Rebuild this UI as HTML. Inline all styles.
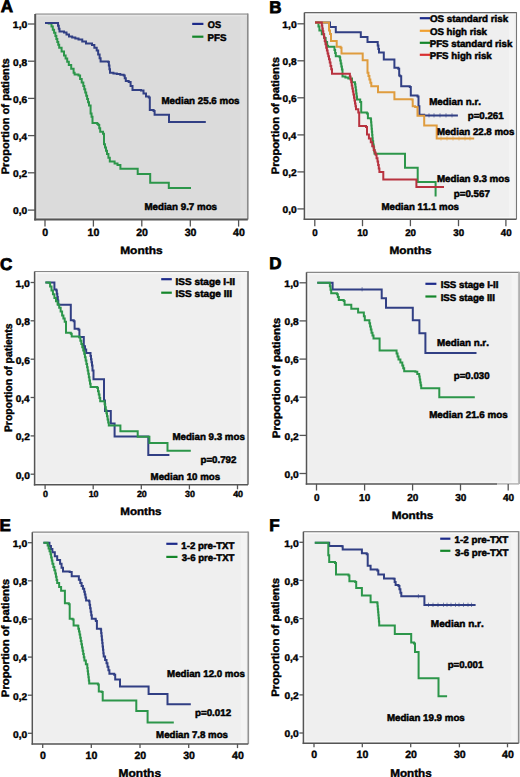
<!DOCTYPE html>
<html><head><meta charset="utf-8"><title>Kaplan-Meier curves</title>
<style>
html,body{margin:0;padding:0;background:#fff;}
svg{display:block;}
text{font-family:"Liberation Sans", sans-serif;font-weight:bold;font-kerning:none;text-rendering:geometricPrecision;white-space:pre;}
</style></head>
<body>
<svg width="520" height="777" viewBox="0 0 520 777">
<rect x="0" y="0" width="520" height="777" fill="#ffffff"/>
<rect x="35.2" y="14.0" width="212.60000000000002" height="205.4" fill="#dbdbdb"/>
<rect x="240.3" y="14.0" width="5.5" height="205.4" fill="#dfdfdf"/>
<line x1="36.800000000000004" y1="14.0" x2="36.800000000000004" y2="219.4" stroke="#e6e6e6" stroke-width="1.2"/>
<line x1="35.2" y1="15.6" x2="247.8" y2="15.6" stroke="#e6e6e6" stroke-width="1.2"/>
<line x1="35.2" y1="217.70000000000002" x2="247.8" y2="217.70000000000002" stroke="#e6e6e6" stroke-width="1.0"/>
<line x1="35.2" y1="14.0" x2="247.8" y2="14.0" stroke="#858585" stroke-width="1.2"/>
<line x1="247.8" y1="13.4" x2="247.8" y2="219.4" stroke="#8c8c8c" stroke-width="1.6"/>
<line x1="35.2" y1="14.0" x2="35.2" y2="220.4" stroke="#555" stroke-width="2.0"/>
<line x1="34.2" y1="219.4" x2="247.8" y2="219.4" stroke="#555" stroke-width="2.0"/>
<line x1="45.0" y1="219.4" x2="45.0" y2="226.6" stroke="#555" stroke-width="1.3"/>
<text x="42.262" y="236.497" font-size="10.593103448275869" textLength="5.891" lengthAdjust="spacingAndGlyphs" fill="#000" stroke="#000" stroke-width="0.4">0</text>
<line x1="93.4" y1="219.4" x2="93.4" y2="226.6" stroke="#555" stroke-width="1.3"/>
<text x="87.592" y="236.497" font-size="10.593103448275869" textLength="11.783" lengthAdjust="spacingAndGlyphs" fill="#000" stroke="#000" stroke-width="0.4">10</text>
<line x1="141.8" y1="219.4" x2="141.8" y2="226.6" stroke="#555" stroke-width="1.3"/>
<text x="136.142" y="236.497" font-size="10.593103448275869" textLength="11.783" lengthAdjust="spacingAndGlyphs" fill="#000" stroke="#000" stroke-width="0.4">20</text>
<line x1="190.3" y1="219.4" x2="190.3" y2="226.6" stroke="#555" stroke-width="1.3"/>
<text x="184.704" y="236.497" font-size="10.593103448275869" textLength="11.783" lengthAdjust="spacingAndGlyphs" fill="#000" stroke="#000" stroke-width="0.4">30</text>
<line x1="238.6" y1="219.4" x2="238.6" y2="226.6" stroke="#555" stroke-width="1.3"/>
<text x="233.046" y="236.497" font-size="10.593103448275869" textLength="11.783" lengthAdjust="spacingAndGlyphs" fill="#000" stroke="#000" stroke-width="0.4">40</text>
<line x1="28.000000000000004" y1="24.0" x2="35.2" y2="24.0" stroke="#555" stroke-width="1.3"/>
<text x="12.844" y="28.300" font-size="9.6" textLength="14.484" lengthAdjust="spacingAndGlyphs" fill="#000" stroke="#000" stroke-width="0.4">1,0</text>
<line x1="28.000000000000004" y1="61.2" x2="35.2" y2="61.2" stroke="#555" stroke-width="1.3"/>
<text x="13.098" y="65.500" font-size="9.6" textLength="14.114" lengthAdjust="spacingAndGlyphs" fill="#000" stroke="#000" stroke-width="0.4">0,8</text>
<line x1="28.000000000000004" y1="98.4" x2="35.2" y2="98.4" stroke="#555" stroke-width="1.3"/>
<text x="13.097" y="102.700" font-size="9.6" textLength="14.172" lengthAdjust="spacingAndGlyphs" fill="#000" stroke="#000" stroke-width="0.4">0,6</text>
<line x1="28.000000000000004" y1="135.6" x2="35.2" y2="135.6" stroke="#555" stroke-width="1.3"/>
<text x="13.106" y="139.900" font-size="9.6" textLength="13.847" lengthAdjust="spacingAndGlyphs" fill="#000" stroke="#000" stroke-width="0.4">0,4</text>
<line x1="28.000000000000004" y1="172.8" x2="35.2" y2="172.8" stroke="#555" stroke-width="1.3"/>
<text x="13.096" y="177.100" font-size="9.6" textLength="14.214" lengthAdjust="spacingAndGlyphs" fill="#000" stroke="#000" stroke-width="0.4">0,2</text>
<line x1="28.000000000000004" y1="210.1" x2="35.2" y2="210.1" stroke="#555" stroke-width="1.3"/>
<text x="13.095" y="214.400" font-size="9.6" textLength="14.224" lengthAdjust="spacingAndGlyphs" fill="#000" stroke="#000" stroke-width="0.4">0,0</text>
<text x="120.202" y="254.400" font-size="10.6" textLength="42.387" lengthAdjust="spacingAndGlyphs" fill="#000" stroke="#000" stroke-width="0.4">Months</text>
<text transform="translate(8.500,173.800) rotate(-90)" x="-0.544" y="0" font-size="10.8" textLength="116.100" lengthAdjust="spacingAndGlyphs" fill="#000" stroke="#000" stroke-width="0.4">Proportion of patients</text>
<text x="0.777" y="11.900" font-size="17.0" textLength="12.277" lengthAdjust="spacingAndGlyphs" fill="#000" stroke="#000" stroke-width="0.8">A</text>
<path d="M45.00,23.00 L48.70,23.00 L48.70,23.60 L51.50,23.60 L51.50,26.50 L52.80,26.50 L52.80,29.67 L54.10,29.67 L54.10,32.83 L55.40,32.83 L55.40,36.00 L56.35,36.00 L56.35,39.00 L57.30,39.00 L57.30,42.00 L58.25,42.00 L58.25,44.85 L59.20,44.85 L59.20,47.70 L61.60,47.70 L61.60,51.55 L64.00,51.55 L64.00,55.40 L65.60,55.40 L65.60,58.60 L67.20,58.60 L67.20,61.80 L68.80,61.80 L68.80,65.00 L71.20,65.00 L71.20,68.85 L73.60,68.85 L73.60,72.70 L74.60,72.70 L74.60,74.60 L78.50,74.60 L78.50,75.60 L80.10,75.60 L80.10,79.07 L81.70,79.07 L81.70,82.53 L83.30,82.53 L83.30,86.00 L84.27,86.00 L84.27,89.27 L85.23,89.27 L85.23,92.53 L86.20,92.53 L86.20,95.80 L87.13,95.80 L87.13,99.00 L88.07,99.00 L88.07,102.20 L89.00,102.20 L89.00,105.40 L90.60,105.40 L90.60,113.50 L91.55,113.50 L91.55,116.85 L92.50,116.85 L92.50,120.20 L92.50,123.00 L97.30,123.00 L97.30,124.00 L98.30,124.00 L98.30,125.00 L99.25,125.00 L99.25,128.35 L100.20,128.35 L100.20,131.70 L103.00,131.70 L103.00,133.70 L104.00,133.70 L104.00,144.20 L105.00,144.20 L105.00,147.47 L106.00,147.47 L106.00,150.73 L107.00,150.73 L107.00,154.00 L108.40,154.00 L108.40,157.75 L109.80,157.75 L109.80,161.50 L114.60,161.50 L114.60,163.50 L117.50,163.50 L117.50,164.90 L120.40,164.90 L120.40,166.30 L120.40,168.80 L137.70,168.80 L137.70,174.00 L149.00,174.00 L150.20,174.00 L150.20,182.70 L168.30,182.70 L168.80,182.70 L168.80,188.00 L191.00,188.00" fill="none" stroke="#2c964a" stroke-width="2.0" stroke-linejoin="miter" stroke-linecap="butt"/>
<path d="M45.00,23.00 L57.30,23.00 L58.03,23.00 L58.03,25.83 L58.77,25.83 L58.77,28.67 L59.50,28.67 L59.50,31.50 L64.00,31.50 L64.00,32.50 L66.50,32.50 L66.50,34.50 L69.00,34.50 L69.00,36.50 L72.17,36.50 L72.17,37.53 L75.33,37.53 L75.33,38.57 L78.50,38.57 L78.50,39.60 L82.25,39.60 L82.25,41.55 L86.00,41.55 L86.00,43.50 L92.00,43.50 L92.00,45.00 L94.35,45.00 L94.35,47.80 L96.70,47.80 L96.70,50.60 L98.15,50.60 L98.15,54.45 L99.60,54.45 L99.60,58.30 L100.60,58.30 L100.60,61.50 L108.30,61.50 L108.30,62.00 L108.87,62.00 L108.87,65.57 L109.43,65.57 L109.43,69.13 L110.00,69.13 L110.00,72.70 L113.42,72.70 L113.42,73.40 L116.85,73.40 L116.85,74.10 L120.28,74.10 L120.28,74.80 L123.70,74.80 L123.70,75.50 L124.75,75.50 L124.75,78.25 L125.80,78.25 L125.80,81.00 L128.70,81.00 L128.70,82.00 L130.60,82.00 L130.60,86.00 L132.50,86.00 L132.50,90.00 L141.00,90.00 L141.00,90.50 L143.50,90.50 L143.50,93.50 L146.00,93.50 L146.00,96.50 L148.80,96.50 L148.80,97.50 L149.80,97.50 L149.80,110.00 L153.60,110.00 L153.60,111.00 L154.60,111.00 L154.60,114.80 L169.00,114.80 L169.00,122.00 L205.80,122.00" fill="none" stroke="#313f84" stroke-width="2.0" stroke-linejoin="miter" stroke-linecap="butt"/>
<line x1="192.2" y1="23.9" x2="203.4" y2="23.9" stroke="#1c2a8a" stroke-width="2.2"/>
<text x="207.874" y="27.950" font-size="9.7" textLength="13.233" lengthAdjust="spacingAndGlyphs" fill="#000" stroke="#000" stroke-width="0.5">OS</text>
<line x1="192.2" y1="36.7" x2="203.4" y2="36.7" stroke="#14862a" stroke-width="2.2"/>
<text x="207.599" y="40.950" font-size="9.7" textLength="18.931" lengthAdjust="spacingAndGlyphs" fill="#000" stroke="#000" stroke-width="0.5">PFS</text>
<text x="161.498" y="104.350" font-size="9.7" textLength="78.052" lengthAdjust="spacingAndGlyphs" fill="#000" stroke="#000" stroke-width="0.5">Median 25.6 mos</text>
<text x="144.397" y="209.950" font-size="9.7" textLength="72.653" lengthAdjust="spacingAndGlyphs" fill="#000" stroke="#000" stroke-width="0.5">Median 9.7 mos</text>
<rect x="304.4" y="12.6" width="212.10000000000002" height="206.6" fill="#efefef"/>
<rect x="509.0" y="12.6" width="5.5" height="206.6" fill="#f4f4f4"/>
<line x1="306.0" y1="12.6" x2="306.0" y2="219.2" stroke="#f8f8f8" stroke-width="1.2"/>
<line x1="304.4" y1="14.2" x2="516.5" y2="14.2" stroke="#f8f8f8" stroke-width="1.2"/>
<line x1="304.4" y1="217.5" x2="516.5" y2="217.5" stroke="#f8f8f8" stroke-width="1.0"/>
<line x1="304.4" y1="12.6" x2="516.5" y2="12.6" stroke="#666" stroke-width="1.1"/>
<line x1="516.5" y1="12.049999999999999" x2="516.5" y2="219.2" stroke="#777" stroke-width="1.1"/>
<line x1="304.4" y1="12.6" x2="304.4" y2="219.95" stroke="#555" stroke-width="1.5"/>
<line x1="303.65" y1="219.2" x2="516.5" y2="219.2" stroke="#555" stroke-width="1.5"/>
<line x1="314.8" y1="219.2" x2="314.8" y2="226.2" stroke="#555" stroke-width="1.3"/>
<text x="312.297" y="235.505" font-size="9.745655172413809" textLength="5.420" lengthAdjust="spacingAndGlyphs" fill="#000" stroke="#000" stroke-width="0.4">0</text>
<line x1="362.5" y1="219.2" x2="362.5" y2="226.2" stroke="#555" stroke-width="1.3"/>
<text x="357.173" y="235.505" font-size="9.745655172413809" textLength="10.840" lengthAdjust="spacingAndGlyphs" fill="#000" stroke="#000" stroke-width="0.4">10</text>
<line x1="410.4" y1="219.2" x2="410.4" y2="226.2" stroke="#555" stroke-width="1.3"/>
<text x="405.211" y="235.505" font-size="9.745655172413809" textLength="10.840" lengthAdjust="spacingAndGlyphs" fill="#000" stroke="#000" stroke-width="0.4">20</text>
<line x1="458.5" y1="219.2" x2="458.5" y2="226.2" stroke="#555" stroke-width="1.3"/>
<text x="453.368" y="235.505" font-size="9.745655172413809" textLength="10.840" lengthAdjust="spacingAndGlyphs" fill="#000" stroke="#000" stroke-width="0.4">30</text>
<line x1="505.9" y1="219.2" x2="505.9" y2="226.2" stroke="#555" stroke-width="1.3"/>
<text x="500.806" y="235.505" font-size="9.745655172413809" textLength="10.840" lengthAdjust="spacingAndGlyphs" fill="#000" stroke="#000" stroke-width="0.4">40</text>
<line x1="297.4" y1="23.8" x2="304.4" y2="23.8" stroke="#555" stroke-width="1.3"/>
<text x="282.244" y="28.100" font-size="9.6" textLength="14.484" lengthAdjust="spacingAndGlyphs" fill="#000" stroke="#000" stroke-width="0.4">1,0</text>
<line x1="297.4" y1="60.8" x2="304.4" y2="60.8" stroke="#555" stroke-width="1.3"/>
<text x="282.498" y="65.100" font-size="9.6" textLength="14.114" lengthAdjust="spacingAndGlyphs" fill="#000" stroke="#000" stroke-width="0.4">0,8</text>
<line x1="297.4" y1="97.8" x2="304.4" y2="97.8" stroke="#555" stroke-width="1.3"/>
<text x="282.497" y="102.100" font-size="9.6" textLength="14.172" lengthAdjust="spacingAndGlyphs" fill="#000" stroke="#000" stroke-width="0.4">0,6</text>
<line x1="297.4" y1="134.9" x2="304.4" y2="134.9" stroke="#555" stroke-width="1.3"/>
<text x="282.506" y="139.200" font-size="9.6" textLength="13.847" lengthAdjust="spacingAndGlyphs" fill="#000" stroke="#000" stroke-width="0.4">0,4</text>
<line x1="297.4" y1="171.9" x2="304.4" y2="171.9" stroke="#555" stroke-width="1.3"/>
<text x="282.496" y="176.200" font-size="9.6" textLength="14.214" lengthAdjust="spacingAndGlyphs" fill="#000" stroke="#000" stroke-width="0.4">0,2</text>
<line x1="297.4" y1="208.9" x2="304.4" y2="208.9" stroke="#555" stroke-width="1.3"/>
<text x="282.495" y="213.200" font-size="9.6" textLength="14.224" lengthAdjust="spacingAndGlyphs" fill="#000" stroke="#000" stroke-width="0.4">0,0</text>
<text x="389.408" y="253.700" font-size="10.6" textLength="42.077" lengthAdjust="spacingAndGlyphs" fill="#000" stroke="#000" stroke-width="0.4">Months</text>
<text transform="translate(278.600,173.800) rotate(-90)" x="-0.551" y="0" font-size="10.8" textLength="117.312" lengthAdjust="spacingAndGlyphs" fill="#000" stroke="#000" stroke-width="0.4">Proportion of patients</text>
<text x="269.363" y="12.600" font-size="17.0" textLength="12.277" lengthAdjust="spacingAndGlyphs" fill="#000" stroke="#000" stroke-width="0.8">B</text>
<path d="M315.00,22.60 L330.00,22.60 L330.00,26.90 L335.80,26.90 L335.80,32.30 L360.80,32.30 L360.80,37.10 L367.50,37.10 L367.50,41.90 L377.10,41.90 L377.73,41.90 L377.73,45.43 L378.37,45.43 L378.37,48.97 L379.00,48.97 L379.00,52.50 L383.80,52.50 L383.80,53.50 L383.80,59.60 L393.50,59.60 L394.40,59.60 L394.40,67.70 L398.30,67.70 L398.30,68.70 L399.20,68.70 L399.20,75.40 L400.20,75.40 L400.20,76.30 L401.20,76.30 L401.20,86.30 L409.80,86.30 L409.80,87.00 L410.80,87.00 L410.80,95.60 L417.50,95.60 L417.50,96.50 L418.50,96.50 L418.50,106.20 L419.40,106.20 L419.40,114.80 L424.20,114.80 L424.20,115.50 L457.90,115.50" fill="none" stroke="#313f84" stroke-width="2.0" stroke-linejoin="miter" stroke-linecap="butt"/>
<path d="M315.00,22.60 L317.50,22.60 L318.45,22.60 L318.45,26.50 L319.40,26.50 L319.40,30.40 L321.80,30.40 L321.80,34.20 L324.20,34.20 L324.20,38.00 L325.65,38.00 L325.65,41.90 L327.10,41.90 L327.10,45.80 L328.00,45.80 L328.00,46.70 L333.80,46.70 L334.47,46.70 L334.47,49.90 L335.13,49.90 L335.13,53.10 L335.80,53.10 L335.80,56.30 L339.60,56.30 L339.60,57.30 L340.18,57.30 L340.18,60.38 L340.76,60.38 L340.76,63.46 L341.34,63.46 L341.34,66.54 L341.92,66.54 L341.92,69.62 L342.50,69.62 L342.50,72.70 L342.50,76.50 L345.40,76.50 L345.40,77.50 L348.30,77.50 L348.30,78.50 L352.00,78.50 L352.00,82.30 L355.00,82.30 L355.00,84.20 L355.40,84.20 L355.40,87.28 L355.80,87.28 L355.80,90.36 L356.20,90.36 L356.20,93.44 L356.60,93.44 L356.60,96.52 L357.00,96.52 L357.00,99.60 L360.20,99.60 L360.20,102.00 L361.20,102.00 L361.20,112.50 L366.90,112.50 L366.90,113.50 L367.90,113.50 L367.90,118.30 L370.80,118.30 L370.80,119.20 L371.07,119.20 L371.07,122.36 L371.34,122.36 L371.34,125.51 L371.61,125.51 L371.61,128.67 L371.89,128.67 L371.89,131.83 L372.16,131.83 L372.16,134.99 L372.43,134.99 L372.43,138.14 L372.70,138.14 L372.70,141.30 L373.18,141.30 L373.18,144.43 L373.65,144.43 L373.65,147.55 L374.12,147.55 L374.12,150.68 L374.60,150.68 L374.60,153.80 L405.00,153.80 L405.00,167.70 L417.70,167.70 L417.70,182.00 L435.60,182.00 L435.60,196.50" fill="none" stroke="#2c964a" stroke-width="2.0" stroke-linejoin="miter" stroke-linecap="butt"/>
<path d="M315.00,22.60 L328.00,22.60 L329.00,22.60 L329.00,30.40 L330.00,30.40 L330.00,34.00 L331.00,34.00 L331.00,41.00 L336.70,41.00 L336.70,46.70 L340.60,46.70 L340.60,47.70 L341.50,47.70 L341.50,48.70 L341.50,53.50 L361.70,53.50 L362.70,53.50 L362.70,60.20 L366.50,60.20 L367.50,60.20 L367.50,72.70 L368.45,72.70 L368.45,76.08 L369.40,76.08 L369.40,79.45 L370.35,79.45 L370.35,82.83 L371.30,82.83 L371.30,86.20 L377.10,86.20 L378.00,86.20 L378.00,92.30 L394.40,92.30 L394.40,99.20 L411.70,99.20 L411.70,99.40 L412.70,99.40 L412.70,106.20 L415.10,106.20 L415.10,107.10 L417.50,107.10 L417.50,108.00 L417.50,115.80 L423.30,115.80 L424.20,115.80 L424.20,125.40 L436.70,125.40 L436.70,126.30 L436.70,138.60 L474.20,138.60" fill="none" stroke="#df9c3e" stroke-width="2.0" stroke-linejoin="miter" stroke-linecap="butt"/>
<path d="M315.00,22.60 L321.30,22.60 L321.80,22.60 L321.80,25.50 L322.30,25.50 L322.30,28.40 L322.80,28.40 L322.80,31.30 L323.30,31.30 L323.30,34.20 L324.02,34.20 L324.02,37.58 L324.75,37.58 L324.75,40.95 L325.48,40.95 L325.48,44.33 L326.20,44.33 L326.20,47.70 L326.90,47.70 L326.90,50.58 L327.60,50.58 L327.60,53.45 L328.30,53.45 L328.30,56.33 L329.00,56.33 L329.00,59.20 L329.75,59.20 L329.75,62.58 L330.50,62.58 L330.50,65.95 L331.25,65.95 L331.25,69.33 L332.00,69.33 L332.00,72.70 L332.00,73.70 L349.20,73.70 L349.87,73.70 L349.87,76.57 L350.53,76.57 L350.53,79.43 L351.20,79.43 L351.20,82.30 L351.76,82.30 L351.76,85.38 L352.32,85.38 L352.32,88.46 L352.88,88.46 L352.88,91.54 L353.44,91.54 L353.44,94.62 L354.00,94.62 L354.00,97.70 L354.50,97.70 L354.50,100.58 L355.00,100.58 L355.00,103.45 L355.50,103.45 L355.50,106.33 L356.00,106.33 L356.00,109.20 L358.30,109.20 L358.30,112.50 L359.20,112.50 L359.20,126.00 L366.00,126.00 L366.00,127.00 L367.00,127.00 L367.00,134.60 L368.90,134.60 L368.90,138.45 L370.80,138.45 L370.80,142.30 L372.25,142.30 L372.25,146.15 L373.70,146.15 L373.70,150.00 L374.65,150.00 L374.65,152.40 L375.60,152.40 L375.60,154.80 L376.55,154.80 L376.55,158.15 L377.50,158.15 L377.50,161.50 L378.13,161.50 L378.13,165.03 L378.77,165.03 L378.77,168.57 L379.40,168.57 L379.40,172.10 L383.30,172.10 L383.30,173.00 L383.30,179.60 L416.40,179.60 L416.40,187.00 L444.00,187.00" fill="none" stroke="#b8323f" stroke-width="2.0" stroke-linejoin="miter" stroke-linecap="butt"/>
<line x1="429" y1="113.2" x2="429" y2="117.5" stroke="#313f84" stroke-width="1.0" opacity="0.55"/>
<line x1="434" y1="113.2" x2="434" y2="117.5" stroke="#313f84" stroke-width="1.0" opacity="0.55"/>
<line x1="440" y1="113.2" x2="440" y2="117.5" stroke="#313f84" stroke-width="1.0" opacity="0.55"/>
<line x1="446" y1="113.2" x2="446" y2="117.5" stroke="#313f84" stroke-width="1.0" opacity="0.55"/>
<line x1="452" y1="113.2" x2="452" y2="117.5" stroke="#313f84" stroke-width="1.0" opacity="0.55"/>
<line x1="441" y1="136.29999999999998" x2="441" y2="140.6" stroke="#df9c3e" stroke-width="1.0" opacity="0.55"/>
<line x1="447" y1="136.29999999999998" x2="447" y2="140.6" stroke="#df9c3e" stroke-width="1.0" opacity="0.55"/>
<line x1="453" y1="136.29999999999998" x2="453" y2="140.6" stroke="#df9c3e" stroke-width="1.0" opacity="0.55"/>
<line x1="459" y1="136.29999999999998" x2="459" y2="140.6" stroke="#df9c3e" stroke-width="1.0" opacity="0.55"/>
<line x1="465" y1="136.29999999999998" x2="465" y2="140.6" stroke="#df9c3e" stroke-width="1.0" opacity="0.55"/>
<line x1="470" y1="136.29999999999998" x2="470" y2="140.6" stroke="#df9c3e" stroke-width="1.0" opacity="0.55"/>
<line x1="419.8" y1="18.2" x2="430.20000000000005" y2="18.2" stroke="#1c2a8a" stroke-width="2.2"/>
<text x="429.949" y="21.850" font-size="9.7" textLength="78.191" lengthAdjust="spacingAndGlyphs" fill="#000" stroke="#000" stroke-width="0.5">OS standard risk</text>
<line x1="419.8" y1="30.8" x2="430.20000000000005" y2="30.8" stroke="#f0a030" stroke-width="2.2"/>
<text x="429.953" y="34.550" font-size="9.7" textLength="56.987" lengthAdjust="spacingAndGlyphs" fill="#000" stroke="#000" stroke-width="0.5">OS high risk</text>
<line x1="419.8" y1="42.8" x2="430.20000000000005" y2="42.8" stroke="#14862a" stroke-width="2.2"/>
<text x="429.700" y="46.750" font-size="9.7" textLength="82.641" lengthAdjust="spacingAndGlyphs" fill="#000" stroke="#000" stroke-width="0.5">PFS standard risk</text>
<line x1="419.8" y1="54.8" x2="430.20000000000005" y2="54.8" stroke="#d83030" stroke-width="2.2"/>
<text x="429.701" y="59.450" font-size="9.7" textLength="62.040" lengthAdjust="spacingAndGlyphs" fill="#000" stroke="#000" stroke-width="0.5">PFS high risk</text>
<text x="429.193" y="104.750" font-size="9.7" textLength="51.833" lengthAdjust="spacingAndGlyphs" fill="#000" stroke="#000" stroke-width="0.5">Median n.r.</text>
<text x="467.708" y="118.950" font-size="9.7" textLength="36.013" lengthAdjust="spacingAndGlyphs" fill="#000" stroke="#000" stroke-width="0.5">p=0.261</text>
<text x="436.903" y="135.350" font-size="9.7" textLength="77.444" lengthAdjust="spacingAndGlyphs" fill="#000" stroke="#000" stroke-width="0.5">Median 22.8 mos</text>
<text x="436.896" y="182.050" font-size="9.7" textLength="72.856" lengthAdjust="spacingAndGlyphs" fill="#000" stroke="#000" stroke-width="0.5">Median 9.3 mos</text>
<text x="453.807" y="196.750" font-size="9.7" textLength="36.072" lengthAdjust="spacingAndGlyphs" fill="#000" stroke="#000" stroke-width="0.5">p=0.567</text>
<text x="381.503" y="209.950" font-size="9.7" textLength="77.444" lengthAdjust="spacingAndGlyphs" fill="#000" stroke="#000" stroke-width="0.5">Median 11.1 mos</text>
<rect x="34.6" y="271.5" width="213.4" height="213.3" fill="#efefef"/>
<rect x="240.5" y="271.5" width="5.5" height="213.3" fill="#f4f4f4"/>
<line x1="36.2" y1="271.5" x2="36.2" y2="484.8" stroke="#f8f8f8" stroke-width="1.2"/>
<line x1="34.6" y1="273.1" x2="248.0" y2="273.1" stroke="#f8f8f8" stroke-width="1.2"/>
<line x1="34.6" y1="483.1" x2="248.0" y2="483.1" stroke="#f8f8f8" stroke-width="1.0"/>
<line x1="34.6" y1="271.5" x2="248.0" y2="271.5" stroke="#888" stroke-width="1.2"/>
<line x1="248.0" y1="270.9" x2="248.0" y2="484.8" stroke="#808080" stroke-width="1.8"/>
<line x1="34.6" y1="271.5" x2="34.6" y2="485.55" stroke="#555" stroke-width="1.5"/>
<line x1="33.85" y1="484.8" x2="248.0" y2="484.8" stroke="#555" stroke-width="1.5"/>
<line x1="45.1" y1="484.8" x2="45.1" y2="489.3" stroke="#555" stroke-width="1.3"/>
<text x="43.132" y="497.413" font-size="8.898206896551708" textLength="4.949" lengthAdjust="spacingAndGlyphs" fill="#000" stroke="#000" stroke-width="0.4">0</text>
<line x1="93.2" y1="484.8" x2="93.2" y2="489.3" stroke="#555" stroke-width="1.3"/>
<text x="88.653" y="497.413" font-size="8.898206896551708" textLength="9.898" lengthAdjust="spacingAndGlyphs" fill="#000" stroke="#000" stroke-width="0.4">10</text>
<line x1="141.3" y1="484.8" x2="141.3" y2="489.3" stroke="#555" stroke-width="1.3"/>
<text x="136.879" y="497.413" font-size="8.898206896551708" textLength="9.898" lengthAdjust="spacingAndGlyphs" fill="#000" stroke="#000" stroke-width="0.4">20</text>
<line x1="189.4" y1="484.8" x2="189.4" y2="489.3" stroke="#555" stroke-width="1.3"/>
<text x="185.032" y="497.413" font-size="8.898206896551708" textLength="9.898" lengthAdjust="spacingAndGlyphs" fill="#000" stroke="#000" stroke-width="0.4">30</text>
<line x1="237.5" y1="484.8" x2="237.5" y2="489.3" stroke="#555" stroke-width="1.3"/>
<text x="233.166" y="497.413" font-size="8.898206896551708" textLength="9.898" lengthAdjust="spacingAndGlyphs" fill="#000" stroke="#000" stroke-width="0.4">40</text>
<line x1="30.6" y1="282.5" x2="34.6" y2="282.5" stroke="#555" stroke-width="1.3"/>
<text x="15.444" y="286.800" font-size="9.6" textLength="14.484" lengthAdjust="spacingAndGlyphs" fill="#000" stroke="#000" stroke-width="0.4">1,0</text>
<line x1="30.6" y1="320.8" x2="34.6" y2="320.8" stroke="#555" stroke-width="1.3"/>
<text x="15.698" y="325.100" font-size="9.6" textLength="14.114" lengthAdjust="spacingAndGlyphs" fill="#000" stroke="#000" stroke-width="0.4">0,8</text>
<line x1="30.6" y1="359.2" x2="34.6" y2="359.2" stroke="#555" stroke-width="1.3"/>
<text x="15.697" y="363.500" font-size="9.6" textLength="14.172" lengthAdjust="spacingAndGlyphs" fill="#000" stroke="#000" stroke-width="0.4">0,6</text>
<line x1="30.6" y1="397.5" x2="34.6" y2="397.5" stroke="#555" stroke-width="1.3"/>
<text x="15.706" y="401.800" font-size="9.6" textLength="13.847" lengthAdjust="spacingAndGlyphs" fill="#000" stroke="#000" stroke-width="0.4">0,4</text>
<line x1="30.6" y1="435.9" x2="34.6" y2="435.9" stroke="#555" stroke-width="1.3"/>
<text x="15.696" y="440.200" font-size="9.6" textLength="14.214" lengthAdjust="spacingAndGlyphs" fill="#000" stroke="#000" stroke-width="0.4">0,2</text>
<line x1="30.6" y1="474.2" x2="34.6" y2="474.2" stroke="#555" stroke-width="1.3"/>
<text x="15.695" y="478.500" font-size="9.6" textLength="14.224" lengthAdjust="spacingAndGlyphs" fill="#000" stroke="#000" stroke-width="0.4">0,0</text>
<text x="120.224" y="514.800" font-size="10.6" textLength="41.252" lengthAdjust="spacingAndGlyphs" fill="#000" stroke="#000" stroke-width="0.4">Months</text>
<text transform="translate(11.500,431.600) rotate(-90)" x="-0.495" y="0" font-size="10.8" textLength="108.521" lengthAdjust="spacingAndGlyphs" fill="#000" stroke="#000" stroke-width="0.4">Proportion of patients</text>
<text x="-0.097" y="269.800" font-size="17.0" textLength="12.277" lengthAdjust="spacingAndGlyphs" fill="#000" stroke="#000" stroke-width="0.8">C</text>
<path d="M45.40,282.50 L53.80,282.50 L54.40,282.50 L54.40,289.40 L56.30,289.40 L56.30,290.40 L56.80,290.40 L56.80,293.75 L57.30,293.75 L57.30,297.10 L57.80,297.10 L57.80,300.45 L58.30,300.45 L58.30,303.80 L58.30,304.80 L69.80,304.80 L70.80,304.80 L70.80,320.20 L73.70,320.20 L73.70,321.20 L74.60,321.20 L74.60,328.80 L78.50,328.80 L78.50,329.80 L79.40,329.80 L79.40,336.90 L82.70,336.90 L83.80,336.90 L83.80,346.20 L85.00,346.20 L85.00,349.55 L86.20,349.55 L86.20,352.90 L90.00,352.90 L90.50,352.90 L90.50,356.02 L91.00,356.02 L91.00,359.15 L91.50,359.15 L91.50,362.27 L92.00,362.27 L92.00,365.40 L92.50,365.40 L92.50,370.60 L93.50,370.60 L93.50,379.20 L103.00,379.20 L104.00,379.20 L104.00,400.40 L105.00,400.40 L105.00,411.00 L109.80,411.00 L110.80,411.00 L110.80,423.50 L114.60,423.50 L114.60,424.40 L114.60,436.50 L148.30,436.50 L148.30,455.00 L169.40,455.00" fill="none" stroke="#313f84" stroke-width="2.0" stroke-linejoin="miter" stroke-linecap="butt"/>
<path d="M45.40,282.50 L48.70,282.50 L48.70,282.70 L50.10,282.70 L50.10,286.55 L51.50,286.55 L51.50,290.40 L52.95,290.40 L52.95,294.20 L54.40,294.20 L54.40,298.00 L56.00,298.00 L56.00,301.23 L57.60,301.23 L57.60,304.47 L59.20,304.47 L59.20,307.70 L60.65,307.70 L60.65,311.55 L62.10,311.55 L62.10,315.40 L63.40,315.40 L63.40,318.60 L64.70,318.60 L64.70,321.80 L66.00,321.80 L66.00,325.00 L66.00,332.70 L70.80,332.70 L70.80,333.70 L71.70,333.70 L71.70,336.50 L79.40,336.50 L79.40,337.50 L80.36,337.50 L80.36,340.76 L81.32,340.76 L81.32,344.02 L82.28,344.02 L82.28,347.28 L83.24,347.28 L83.24,350.54 L84.20,350.54 L84.20,353.80 L84.92,353.80 L84.92,357.18 L85.65,357.18 L85.65,360.55 L86.38,360.55 L86.38,363.93 L87.10,363.93 L87.10,367.30 L87.68,367.30 L87.68,370.58 L88.27,370.58 L88.27,373.87 L88.85,373.87 L88.85,377.15 L89.43,377.15 L89.43,380.43 L90.02,380.43 L90.02,383.72 L90.60,383.72 L90.60,387.00 L97.30,387.00 L97.30,387.90 L98.03,387.90 L98.03,391.25 L98.75,391.25 L98.75,394.60 L99.47,394.60 L99.47,397.95 L100.20,397.95 L100.20,401.30 L104.00,401.30 L104.60,401.30 L104.60,404.31 L105.20,404.31 L105.20,407.32 L105.80,407.32 L105.80,410.34 L106.40,410.34 L106.40,413.35 L107.00,413.35 L107.00,416.36 L107.60,416.36 L107.60,419.38 L108.20,419.38 L108.20,422.39 L108.80,422.39 L108.80,425.40 L120.40,425.40 L120.40,426.30 L120.40,431.30 L137.70,431.30 L137.70,436.70 L148.80,436.70 L149.40,436.70 L149.40,443.00 L167.50,443.00 L167.50,450.80 L190.80,450.80" fill="none" stroke="#2c964a" stroke-width="2.0" stroke-linejoin="miter" stroke-linecap="butt"/>
<line x1="161.2" y1="279.2" x2="171.79999999999998" y2="279.2" stroke="#1c2a8a" stroke-width="2.2"/>
<text x="175.581" y="284.750" font-size="9.7" textLength="59.437" lengthAdjust="spacingAndGlyphs" fill="#000" stroke="#000" stroke-width="0.5">ISS stage I-II</text>
<line x1="161.2" y1="292.7" x2="171.79999999999998" y2="292.7" stroke="#14862a" stroke-width="2.2"/>
<text x="175.576" y="296.650" font-size="9.7" textLength="56.548" lengthAdjust="spacingAndGlyphs" fill="#000" stroke="#000" stroke-width="0.5">ISS stage III</text>
<text x="172.399" y="440.450" font-size="9.7" textLength="72.450" lengthAdjust="spacingAndGlyphs" fill="#000" stroke="#000" stroke-width="0.5">Median 9.3 mos</text>
<text x="200.509" y="463.050" font-size="9.7" textLength="35.930" lengthAdjust="spacingAndGlyphs" fill="#000" stroke="#000" stroke-width="0.5">p=0.792</text>
<text x="150.601" y="479.550" font-size="9.7" textLength="69.547" lengthAdjust="spacingAndGlyphs" fill="#000" stroke="#000" stroke-width="0.5">Median 10 mos</text>
<rect x="306.5" y="272.3" width="212.60000000000002" height="211.59999999999997" fill="#efefef"/>
<rect x="511.6" y="272.3" width="5.5" height="211.59999999999997" fill="#f4f4f4"/>
<line x1="308.1" y1="272.3" x2="308.1" y2="483.9" stroke="#f8f8f8" stroke-width="1.2"/>
<line x1="306.5" y1="273.90000000000003" x2="519.1" y2="273.90000000000003" stroke="#f8f8f8" stroke-width="1.2"/>
<line x1="306.5" y1="482.2" x2="519.1" y2="482.2" stroke="#f8f8f8" stroke-width="1.0"/>
<line x1="306.5" y1="272.3" x2="519.1" y2="272.3" stroke="#888" stroke-width="1.2"/>
<line x1="519.1" y1="271.7" x2="519.1" y2="483.9" stroke="#b0b0b0" stroke-width="1.8"/>
<line x1="306.5" y1="272.3" x2="306.5" y2="484.65" stroke="#555" stroke-width="1.5"/>
<line x1="305.75" y1="483.9" x2="497" y2="483.9" stroke="#555" stroke-width="1.5"/>
<line x1="497" y1="483.9" x2="519.1" y2="483.9" stroke="#b4b4b4" stroke-width="1.5"/>
<line x1="316.5" y1="483.9" x2="316.5" y2="490.5" stroke="#555" stroke-width="1.3"/>
<text x="313.919" y="500.502" font-size="10.028137931034482" textLength="5.577" lengthAdjust="spacingAndGlyphs" fill="#000" stroke="#000" stroke-width="0.4">0</text>
<line x1="364.6" y1="483.9" x2="364.6" y2="490.5" stroke="#555" stroke-width="1.3"/>
<text x="359.113" y="500.502" font-size="10.028137931034482" textLength="11.154" lengthAdjust="spacingAndGlyphs" fill="#000" stroke="#000" stroke-width="0.4">10</text>
<line x1="412.6" y1="483.9" x2="412.6" y2="490.5" stroke="#555" stroke-width="1.3"/>
<text x="407.255" y="500.502" font-size="10.028137931034482" textLength="11.154" lengthAdjust="spacingAndGlyphs" fill="#000" stroke="#000" stroke-width="0.4">20</text>
<line x1="460.5" y1="483.9" x2="460.5" y2="490.5" stroke="#555" stroke-width="1.3"/>
<text x="455.213" y="500.502" font-size="10.028137931034482" textLength="11.154" lengthAdjust="spacingAndGlyphs" fill="#000" stroke="#000" stroke-width="0.4">30</text>
<line x1="508.2" y1="483.9" x2="508.2" y2="490.5" stroke="#555" stroke-width="1.3"/>
<text x="502.953" y="500.502" font-size="10.028137931034482" textLength="11.154" lengthAdjust="spacingAndGlyphs" fill="#000" stroke="#000" stroke-width="0.4">40</text>
<line x1="299.5" y1="282.8" x2="306.5" y2="282.8" stroke="#555" stroke-width="1.3"/>
<text x="284.344" y="287.100" font-size="9.6" textLength="14.484" lengthAdjust="spacingAndGlyphs" fill="#000" stroke="#000" stroke-width="0.4">1,0</text>
<line x1="299.5" y1="320.9" x2="306.5" y2="320.9" stroke="#555" stroke-width="1.3"/>
<text x="284.598" y="325.200" font-size="9.6" textLength="14.114" lengthAdjust="spacingAndGlyphs" fill="#000" stroke="#000" stroke-width="0.4">0,8</text>
<line x1="299.5" y1="359.1" x2="306.5" y2="359.1" stroke="#555" stroke-width="1.3"/>
<text x="284.597" y="363.400" font-size="9.6" textLength="14.172" lengthAdjust="spacingAndGlyphs" fill="#000" stroke="#000" stroke-width="0.4">0,6</text>
<line x1="299.5" y1="397.2" x2="306.5" y2="397.2" stroke="#555" stroke-width="1.3"/>
<text x="284.606" y="401.500" font-size="9.6" textLength="13.847" lengthAdjust="spacingAndGlyphs" fill="#000" stroke="#000" stroke-width="0.4">0,4</text>
<line x1="299.5" y1="435.4" x2="306.5" y2="435.4" stroke="#555" stroke-width="1.3"/>
<text x="284.596" y="439.700" font-size="9.6" textLength="14.214" lengthAdjust="spacingAndGlyphs" fill="#000" stroke="#000" stroke-width="0.4">0,2</text>
<line x1="299.5" y1="473.5" x2="306.5" y2="473.5" stroke="#555" stroke-width="1.3"/>
<text x="284.595" y="477.800" font-size="9.6" textLength="14.224" lengthAdjust="spacingAndGlyphs" fill="#000" stroke="#000" stroke-width="0.4">0,0</text>
<text x="391.716" y="519.000" font-size="10.6" textLength="41.665" lengthAdjust="spacingAndGlyphs" fill="#000" stroke="#000" stroke-width="0.4">Months</text>
<text transform="translate(280.000,437.700) rotate(-90)" x="-0.571" y="0" font-size="10.8" textLength="120.444" lengthAdjust="spacingAndGlyphs" fill="#000" stroke="#000" stroke-width="0.4">Proportion of patients</text>
<text x="269.363" y="269.200" font-size="17.0" textLength="12.277" lengthAdjust="spacingAndGlyphs" fill="#000" stroke="#000" stroke-width="0.8">D</text>
<path d="M317.30,282.80 L332.10,282.80 L332.60,282.80 L332.60,289.40 L381.20,289.40 L381.70,289.40 L381.70,298.30 L386.00,298.30 L386.00,307.70 L412.50,307.70 L412.80,307.70 L412.80,320.20 L419.20,320.20 L419.40,320.20 L419.40,333.30 L425.20,333.30 L425.40,333.30 L425.40,353.10 L476.50,353.10" fill="none" stroke="#313f84" stroke-width="2.0" stroke-linejoin="miter" stroke-linecap="butt"/>
<path d="M317.30,282.80 L329.20,282.80 L329.87,282.80 L329.87,286.30 L330.53,286.30 L330.53,289.80 L331.20,289.80 L331.20,293.30 L336.90,293.30 L336.90,294.20 L337.85,294.20 L337.85,297.10 L338.80,297.10 L338.80,300.00 L343.70,300.00 L343.70,301.00 L344.60,301.00 L344.60,304.80 L350.40,304.80 L351.30,304.80 L351.30,308.70 L357.10,308.70 L358.10,308.70 L358.10,312.50 L362.90,312.50 L363.85,312.50 L363.85,316.35 L364.80,316.35 L364.80,320.20 L368.70,320.20 L369.40,320.20 L369.40,323.32 L370.10,323.32 L370.10,326.45 L370.80,326.45 L370.80,329.57 L371.50,329.57 L371.50,332.70 L372.50,332.70 L372.50,335.60 L373.50,335.60 L373.50,338.50 L379.20,338.50 L379.60,338.50 L379.60,350.40 L395.60,350.40 L396.57,350.40 L396.57,353.47 L397.53,353.47 L397.53,356.53 L398.50,356.53 L398.50,359.60 L400.40,359.60 L400.40,362.50 L402.30,362.50 L402.30,365.40 L403.25,365.40 L403.25,368.30 L404.20,368.30 L404.20,371.20 L415.40,371.20 L415.40,371.70 L417.30,371.70 L417.30,374.10 L419.20,374.10 L419.20,376.50 L419.70,376.50 L419.70,379.45 L420.20,379.45 L420.20,382.40 L420.70,382.40 L420.70,385.35 L421.20,385.35 L421.20,388.30 L439.30,388.30 L439.30,397.30 L474.80,397.30" fill="none" stroke="#2c964a" stroke-width="2.0" stroke-linejoin="miter" stroke-linecap="butt"/>
<line x1="362.1" y1="287.09999999999997" x2="362.1" y2="291.4" stroke="#313f84" stroke-width="1.0" opacity="0.55"/>
<line x1="425.4" y1="283.8" x2="436.40000000000003" y2="283.8" stroke="#1c2a8a" stroke-width="2.2"/>
<text x="440.700" y="288.250" font-size="9.7" textLength="57.800" lengthAdjust="spacingAndGlyphs" fill="#000" stroke="#000" stroke-width="0.5">ISS stage I-II</text>
<line x1="425.4" y1="296.5" x2="436.40000000000003" y2="296.5" stroke="#14862a" stroke-width="2.2"/>
<text x="440.703" y="300.950" font-size="9.7" textLength="54.294" lengthAdjust="spacingAndGlyphs" fill="#000" stroke="#000" stroke-width="0.5">ISS stage III</text>
<text x="437.093" y="345.950" font-size="9.7" textLength="51.833" lengthAdjust="spacingAndGlyphs" fill="#000" stroke="#000" stroke-width="0.5">Median n.r.</text>
<text x="453.813" y="379.150" font-size="9.7" textLength="35.733" lengthAdjust="spacingAndGlyphs" fill="#000" stroke="#000" stroke-width="0.5">p=0.030</text>
<text x="429.194" y="417.850" font-size="9.7" textLength="78.458" lengthAdjust="spacingAndGlyphs" fill="#000" stroke="#000" stroke-width="0.5">Median 21.6 mos</text>
<rect x="32.3" y="532.2" width="216.0" height="211.69999999999993" fill="#efefef"/>
<rect x="240.8" y="532.2" width="5.5" height="211.69999999999993" fill="#f4f4f4"/>
<line x1="33.9" y1="532.2" x2="33.9" y2="743.9" stroke="#f8f8f8" stroke-width="1.2"/>
<line x1="32.3" y1="533.8000000000001" x2="248.3" y2="533.8000000000001" stroke="#f8f8f8" stroke-width="1.2"/>
<line x1="32.3" y1="742.1999999999999" x2="248.3" y2="742.1999999999999" stroke="#f8f8f8" stroke-width="1.0"/>
<line x1="32.3" y1="532.2" x2="248.3" y2="532.2" stroke="#888" stroke-width="1.2"/>
<line x1="248.3" y1="531.6" x2="248.3" y2="743.9" stroke="#939393" stroke-width="1.6"/>
<line x1="32.3" y1="532.2" x2="32.3" y2="744.65" stroke="#555" stroke-width="1.5"/>
<line x1="31.549999999999997" y1="743.9" x2="248.3" y2="743.9" stroke="#555" stroke-width="1.5"/>
<line x1="42.7" y1="743.9" x2="42.7" y2="748.1" stroke="#555" stroke-width="1.3"/>
<text x="40.062" y="758.597" font-size="10.59310344827583" textLength="5.891" lengthAdjust="spacingAndGlyphs" fill="#000" stroke="#000" stroke-width="0.4">0</text>
<line x1="91.3" y1="743.9" x2="91.3" y2="748.1" stroke="#555" stroke-width="1.3"/>
<text x="85.592" y="758.597" font-size="10.59310344827583" textLength="11.783" lengthAdjust="spacingAndGlyphs" fill="#000" stroke="#000" stroke-width="0.4">10</text>
<line x1="140.0" y1="743.9" x2="140.0" y2="748.1" stroke="#555" stroke-width="1.3"/>
<text x="134.442" y="758.597" font-size="10.59310344827583" textLength="11.783" lengthAdjust="spacingAndGlyphs" fill="#000" stroke="#000" stroke-width="0.4">20</text>
<line x1="188.7" y1="743.9" x2="188.7" y2="748.1" stroke="#555" stroke-width="1.3"/>
<text x="183.204" y="758.597" font-size="10.59310344827583" textLength="11.783" lengthAdjust="spacingAndGlyphs" fill="#000" stroke="#000" stroke-width="0.4">30</text>
<line x1="237.5" y1="743.9" x2="237.5" y2="748.1" stroke="#555" stroke-width="1.3"/>
<text x="232.046" y="758.597" font-size="10.59310344827583" textLength="11.783" lengthAdjust="spacingAndGlyphs" fill="#000" stroke="#000" stroke-width="0.4">40</text>
<line x1="27.9" y1="542.7" x2="32.3" y2="542.7" stroke="#555" stroke-width="1.3"/>
<text x="12.744" y="547.000" font-size="9.6" textLength="14.484" lengthAdjust="spacingAndGlyphs" fill="#000" stroke="#000" stroke-width="0.4">1,0</text>
<line x1="27.9" y1="580.8" x2="32.3" y2="580.8" stroke="#555" stroke-width="1.3"/>
<text x="12.998" y="585.100" font-size="9.6" textLength="14.114" lengthAdjust="spacingAndGlyphs" fill="#000" stroke="#000" stroke-width="0.4">0,8</text>
<line x1="27.9" y1="619.0" x2="32.3" y2="619.0" stroke="#555" stroke-width="1.3"/>
<text x="12.997" y="623.300" font-size="9.6" textLength="14.172" lengthAdjust="spacingAndGlyphs" fill="#000" stroke="#000" stroke-width="0.4">0,6</text>
<line x1="27.9" y1="657.1" x2="32.3" y2="657.1" stroke="#555" stroke-width="1.3"/>
<text x="13.006" y="661.400" font-size="9.6" textLength="13.847" lengthAdjust="spacingAndGlyphs" fill="#000" stroke="#000" stroke-width="0.4">0,4</text>
<line x1="27.9" y1="695.2" x2="32.3" y2="695.2" stroke="#555" stroke-width="1.3"/>
<text x="12.996" y="699.500" font-size="9.6" textLength="14.214" lengthAdjust="spacingAndGlyphs" fill="#000" stroke="#000" stroke-width="0.4">0,2</text>
<line x1="27.9" y1="733.3" x2="32.3" y2="733.3" stroke="#555" stroke-width="1.3"/>
<text x="12.995" y="737.600" font-size="9.6" textLength="14.224" lengthAdjust="spacingAndGlyphs" fill="#000" stroke="#000" stroke-width="0.4">0,0</text>
<text x="118.600" y="776.800" font-size="11.3" textLength="42.490" lengthAdjust="spacingAndGlyphs" fill="#000" stroke="#000" stroke-width="0.4">Months</text>
<text transform="translate(8.600,696.600) rotate(-90)" x="-0.557" y="0" font-size="10.8" textLength="118.120" lengthAdjust="spacingAndGlyphs" fill="#000" stroke="#000" stroke-width="0.4">Proportion of patients</text>
<text x="-0.437" y="530.500" font-size="17.0" textLength="11.339" lengthAdjust="spacingAndGlyphs" fill="#000" stroke="#000" stroke-width="0.8">E</text>
<path d="M43.40,542.70 L48.00,542.70 L49.47,542.70 L49.47,545.90 L50.93,545.90 L50.93,549.10 L52.40,549.10 L52.40,552.30 L54.80,552.30 L54.80,556.15 L57.20,556.15 L57.20,560.00 L60.10,560.00 L60.10,563.80 L61.55,563.80 L61.55,567.65 L63.00,567.65 L63.00,571.50 L69.70,571.50 L69.70,571.90 L71.70,571.90 L71.70,576.30 L77.40,576.30 L78.85,576.30 L78.85,579.70 L80.30,579.70 L80.30,583.10 L81.60,583.10 L81.60,585.97 L82.90,585.97 L82.90,588.83 L84.20,588.83 L84.20,591.70 L84.83,591.70 L84.83,594.60 L85.47,594.60 L85.47,597.50 L86.10,597.50 L86.10,600.40 L89.00,600.40 L89.00,601.30 L89.56,601.30 L89.56,604.78 L90.12,604.78 L90.12,608.26 L90.68,608.26 L90.68,611.74 L91.24,611.74 L91.24,615.22 L91.80,615.22 L91.80,618.70 L95.70,618.70 L95.70,620.60 L96.00,620.60 L96.00,621.00 L96.90,621.00 L96.90,628.70 L100.80,628.70 L100.80,629.60 L101.16,629.60 L101.16,632.96 L101.53,632.96 L101.53,636.33 L101.89,636.33 L101.89,639.69 L102.25,639.69 L102.25,643.05 L102.61,643.05 L102.61,646.41 L102.97,646.41 L102.97,649.77 L103.34,649.77 L103.34,653.14 L103.70,653.14 L103.70,656.50 L105.10,656.50 L105.10,659.90 L106.50,659.90 L106.50,663.30 L107.47,663.30 L107.47,666.80 L108.43,666.80 L108.43,670.30 L109.40,670.30 L109.40,673.80 L114.20,673.80 L114.20,674.80 L115.20,674.80 L115.20,679.60 L120.00,679.60 L120.00,680.60 L120.00,686.60 L148.60,686.60 L148.60,694.00 L167.30,694.00 L167.50,694.00 L167.50,704.20 L190.80,704.20" fill="none" stroke="#313f84" stroke-width="2.0" stroke-linejoin="miter" stroke-linecap="butt"/>
<path d="M43.40,542.70 L46.70,542.70 L47.65,542.70 L47.65,545.58 L48.60,545.58 L48.60,548.45 L49.55,548.45 L49.55,551.33 L50.50,551.33 L50.50,554.20 L51.13,554.20 L51.13,557.40 L51.77,557.40 L51.77,560.60 L52.40,560.60 L52.40,563.80 L53.37,563.80 L53.37,567.03 L54.33,567.03 L54.33,570.27 L55.30,570.27 L55.30,573.50 L55.93,573.50 L55.93,576.70 L56.57,576.70 L56.57,579.90 L57.20,579.90 L57.20,583.10 L59.15,583.10 L59.15,586.95 L61.10,586.95 L61.10,590.80 L64.00,590.80 L64.90,590.80 L64.90,603.30 L68.80,603.30 L68.80,604.20 L69.70,604.20 L69.70,618.70 L72.60,618.70 L72.60,619.60 L73.60,619.60 L73.60,625.40 L77.70,625.40 L77.70,625.80 L78.33,625.80 L78.33,628.67 L78.97,628.67 L78.97,631.53 L79.60,631.53 L79.60,634.40 L80.20,634.40 L80.20,637.65 L80.80,637.65 L80.80,640.90 L81.40,640.90 L81.40,644.15 L82.00,644.15 L82.00,647.40 L82.60,647.40 L82.60,650.65 L83.20,650.65 L83.20,653.90 L83.80,653.90 L83.80,657.15 L84.40,657.15 L84.40,660.40 L85.85,660.40 L85.85,664.25 L87.30,664.25 L87.30,668.10 L87.68,668.10 L87.68,671.18 L88.06,671.18 L88.06,674.26 L88.44,674.26 L88.44,677.34 L88.82,677.34 L88.82,680.42 L89.20,680.42 L89.20,683.50 L97.90,683.50 L97.90,684.40 L98.80,684.40 L98.80,691.50 L101.70,691.50 L101.70,692.10 L102.70,692.10 L102.70,700.40 L136.30,700.40 L136.30,711.00 L147.60,711.00 L147.60,722.40 L173.80,722.40" fill="none" stroke="#2c964a" stroke-width="2.0" stroke-linejoin="miter" stroke-linecap="butt"/>
<line x1="166.3" y1="543.8" x2="177.5" y2="543.8" stroke="#1c2a8a" stroke-width="2.2"/>
<text x="181.342" y="548.950" font-size="9.7" textLength="53.112" lengthAdjust="spacingAndGlyphs" fill="#000" stroke="#000" stroke-width="0.5">1-2 pre-TXT</text>
<line x1="166.3" y1="556.9" x2="177.5" y2="556.9" stroke="#14862a" stroke-width="2.2"/>
<text x="181.730" y="561.450" font-size="9.7" textLength="52.723" lengthAdjust="spacingAndGlyphs" fill="#000" stroke="#000" stroke-width="0.5">3-6 pre-TXT</text>
<text x="167.100" y="676.650" font-size="9.7" textLength="77.748" lengthAdjust="spacingAndGlyphs" fill="#000" stroke="#000" stroke-width="0.5">Median 12.0 mos</text>
<text x="195.006" y="715.850" font-size="9.7" textLength="36.136" lengthAdjust="spacingAndGlyphs" fill="#000" stroke="#000" stroke-width="0.5">p=0.012</text>
<text x="156.105" y="738.050" font-size="9.7" textLength="71.841" lengthAdjust="spacingAndGlyphs" fill="#000" stroke="#000" stroke-width="0.5">Median 7.8 mos</text>
<rect x="303.4" y="531.7" width="215.30000000000007" height="211.5999999999999" fill="#efefef"/>
<rect x="511.20000000000005" y="531.7" width="5.5" height="211.5999999999999" fill="#f4f4f4"/>
<line x1="305.0" y1="531.7" x2="305.0" y2="743.3" stroke="#f8f8f8" stroke-width="1.2"/>
<line x1="303.4" y1="533.3000000000001" x2="518.7" y2="533.3000000000001" stroke="#f8f8f8" stroke-width="1.2"/>
<line x1="303.4" y1="741.5999999999999" x2="518.7" y2="741.5999999999999" stroke="#f8f8f8" stroke-width="1.0"/>
<line x1="303.4" y1="531.7" x2="518.7" y2="531.7" stroke="#888" stroke-width="1.2"/>
<line x1="518.7" y1="531.1" x2="518.7" y2="743.3" stroke="#8a8a8a" stroke-width="1.6"/>
<line x1="303.4" y1="531.7" x2="303.4" y2="744.05" stroke="#555" stroke-width="1.5"/>
<line x1="302.65" y1="743.3" x2="518.7" y2="743.3" stroke="#555" stroke-width="1.5"/>
<line x1="314.0" y1="743.3" x2="314.0" y2="747.3" stroke="#555" stroke-width="1.3"/>
<text x="311.362" y="758.397" font-size="10.59310344827599" textLength="5.891" lengthAdjust="spacingAndGlyphs" fill="#000" stroke="#000" stroke-width="0.4">0</text>
<line x1="362.3" y1="743.3" x2="362.3" y2="747.3" stroke="#555" stroke-width="1.3"/>
<text x="356.592" y="758.397" font-size="10.59310344827599" textLength="11.783" lengthAdjust="spacingAndGlyphs" fill="#000" stroke="#000" stroke-width="0.4">10</text>
<line x1="410.7" y1="743.3" x2="410.7" y2="747.3" stroke="#555" stroke-width="1.3"/>
<text x="405.142" y="758.397" font-size="10.59310344827599" textLength="11.783" lengthAdjust="spacingAndGlyphs" fill="#000" stroke="#000" stroke-width="0.4">20</text>
<line x1="459.4" y1="743.3" x2="459.4" y2="747.3" stroke="#555" stroke-width="1.3"/>
<text x="453.904" y="758.397" font-size="10.59310344827599" textLength="11.783" lengthAdjust="spacingAndGlyphs" fill="#000" stroke="#000" stroke-width="0.4">30</text>
<line x1="507.5" y1="743.3" x2="507.5" y2="747.3" stroke="#555" stroke-width="1.3"/>
<text x="502.046" y="758.397" font-size="10.59310344827599" textLength="11.783" lengthAdjust="spacingAndGlyphs" fill="#000" stroke="#000" stroke-width="0.4">40</text>
<line x1="299.4" y1="542.3" x2="303.4" y2="542.3" stroke="#555" stroke-width="1.3"/>
<text x="284.244" y="546.600" font-size="9.6" textLength="14.484" lengthAdjust="spacingAndGlyphs" fill="#000" stroke="#000" stroke-width="0.4">1,0</text>
<line x1="299.4" y1="580.4" x2="303.4" y2="580.4" stroke="#555" stroke-width="1.3"/>
<text x="284.498" y="584.700" font-size="9.6" textLength="14.114" lengthAdjust="spacingAndGlyphs" fill="#000" stroke="#000" stroke-width="0.4">0,8</text>
<line x1="299.4" y1="618.6" x2="303.4" y2="618.6" stroke="#555" stroke-width="1.3"/>
<text x="284.497" y="622.900" font-size="9.6" textLength="14.172" lengthAdjust="spacingAndGlyphs" fill="#000" stroke="#000" stroke-width="0.4">0,6</text>
<line x1="299.4" y1="656.7" x2="303.4" y2="656.7" stroke="#555" stroke-width="1.3"/>
<text x="284.506" y="661.000" font-size="9.6" textLength="13.847" lengthAdjust="spacingAndGlyphs" fill="#000" stroke="#000" stroke-width="0.4">0,4</text>
<line x1="299.4" y1="694.9" x2="303.4" y2="694.9" stroke="#555" stroke-width="1.3"/>
<text x="284.496" y="699.200" font-size="9.6" textLength="14.214" lengthAdjust="spacingAndGlyphs" fill="#000" stroke="#000" stroke-width="0.4">0,2</text>
<line x1="299.4" y1="733.0" x2="303.4" y2="733.0" stroke="#555" stroke-width="1.3"/>
<text x="284.495" y="737.300" font-size="9.6" textLength="14.224" lengthAdjust="spacingAndGlyphs" fill="#000" stroke="#000" stroke-width="0.4">0,0</text>
<text x="390.218" y="776.800" font-size="11.3" textLength="41.562" lengthAdjust="spacingAndGlyphs" fill="#000" stroke="#000" stroke-width="0.4">Months</text>
<text transform="translate(279.400,696.200) rotate(-90)" x="-0.562" y="0" font-size="10.8" textLength="118.929" lengthAdjust="spacingAndGlyphs" fill="#000" stroke="#000" stroke-width="0.4">Proportion of patients</text>
<text x="269.363" y="530.500" font-size="17.0" textLength="10.384" lengthAdjust="spacingAndGlyphs" fill="#000" stroke="#000" stroke-width="0.8">F</text>
<path d="M314.80,542.70 L328.30,542.70 L329.20,542.70 L329.20,546.00 L341.70,546.00 L341.70,546.20 L342.70,546.20 L342.70,549.40 L361.00,549.40 L361.90,549.40 L361.90,553.30 L366.70,553.30 L366.70,554.20 L367.70,554.20 L367.70,565.80 L370.60,565.80 L370.60,569.60 L377.30,569.60 L377.30,570.60 L378.30,570.60 L378.30,574.40 L383.10,574.40 L384.00,574.40 L384.00,578.50 L393.70,578.50 L393.70,578.80 L394.65,578.80 L394.65,581.90 L395.60,581.90 L395.60,585.00 L398.50,585.00 L398.50,586.00 L399.45,586.00 L399.45,589.35 L400.40,589.35 L400.40,592.70 L401.30,592.70 L401.30,596.30 L423.70,596.30 L424.40,596.30 L424.40,605.00 L475.60,605.00" fill="none" stroke="#313f84" stroke-width="2.0" stroke-linejoin="miter" stroke-linecap="butt"/>
<path d="M314.80,542.70 L327.30,542.70 L328.30,542.70 L328.30,555.20 L329.20,555.20 L329.20,561.90 L335.00,561.90 L335.00,562.90 L336.00,562.90 L336.00,574.40 L348.50,574.40 L348.50,575.40 L349.40,575.40 L349.40,581.20 L355.20,581.20 L355.20,582.10 L356.20,582.10 L356.20,587.90 L361.00,587.90 L361.90,587.90 L361.90,595.60 L369.60,595.60 L370.60,595.60 L370.60,602.30 L377.30,602.30 L377.30,603.30 L377.57,603.30 L377.57,606.31 L377.84,606.31 L377.84,609.33 L378.11,609.33 L378.11,612.34 L378.39,612.34 L378.39,615.36 L378.66,615.36 L378.66,618.37 L378.93,618.37 L378.93,621.39 L379.20,621.39 L379.20,624.40 L379.20,625.40 L394.00,625.40 L394.00,625.60 L394.80,625.60 L394.80,634.00 L410.20,634.00 L411.20,634.00 L411.20,642.50 L414.00,642.50 L414.00,643.50 L415.00,643.50 L415.00,652.10 L418.60,652.10 L418.60,678.30 L438.50,678.30 L438.50,696.20 L447.10,696.20" fill="none" stroke="#2c964a" stroke-width="2.0" stroke-linejoin="miter" stroke-linecap="butt"/>
<line x1="418.4" y1="594.0" x2="418.4" y2="598.3" stroke="#313f84" stroke-width="1.0" opacity="0.55"/>
<line x1="428.5" y1="602.7" x2="428.5" y2="607.0" stroke="#313f84" stroke-width="1.0" opacity="0.55"/>
<line x1="433" y1="602.7" x2="433" y2="607.0" stroke="#313f84" stroke-width="1.0" opacity="0.55"/>
<line x1="438" y1="602.7" x2="438" y2="607.0" stroke="#313f84" stroke-width="1.0" opacity="0.55"/>
<line x1="443.5" y1="602.7" x2="443.5" y2="607.0" stroke="#313f84" stroke-width="1.0" opacity="0.55"/>
<line x1="447" y1="602.7" x2="447" y2="607.0" stroke="#313f84" stroke-width="1.0" opacity="0.55"/>
<line x1="451" y1="602.7" x2="451" y2="607.0" stroke="#313f84" stroke-width="1.0" opacity="0.55"/>
<line x1="455.5" y1="602.7" x2="455.5" y2="607.0" stroke="#313f84" stroke-width="1.0" opacity="0.55"/>
<line x1="459" y1="602.7" x2="459" y2="607.0" stroke="#313f84" stroke-width="1.0" opacity="0.55"/>
<line x1="463.5" y1="602.7" x2="463.5" y2="607.0" stroke="#313f84" stroke-width="1.0" opacity="0.55"/>
<line x1="468" y1="602.7" x2="468" y2="607.0" stroke="#313f84" stroke-width="1.0" opacity="0.55"/>
<line x1="471.5" y1="602.7" x2="471.5" y2="607.0" stroke="#313f84" stroke-width="1.0" opacity="0.55"/>
<line x1="440.2" y1="538.7" x2="450.40000000000003" y2="538.7" stroke="#1c2a8a" stroke-width="2.2"/>
<text x="454.635" y="543.250" font-size="9.7" textLength="53.720" lengthAdjust="spacingAndGlyphs" fill="#000" stroke="#000" stroke-width="0.5">1-2 pre-TXT</text>
<line x1="440.2" y1="550.8" x2="450.40000000000003" y2="550.8" stroke="#14862a" stroke-width="2.2"/>
<text x="455.028" y="555.750" font-size="9.7" textLength="53.327" lengthAdjust="spacingAndGlyphs" fill="#000" stroke="#000" stroke-width="0.5">3-6 pre-TXT</text>
<text x="430.880" y="626.850" font-size="9.7" textLength="52.859" lengthAdjust="spacingAndGlyphs" fill="#000" stroke="#000" stroke-width="0.5">Median n.r.</text>
<text x="447.715" y="668.250" font-size="9.7" textLength="35.603" lengthAdjust="spacingAndGlyphs" fill="#000" stroke="#000" stroke-width="0.5">p=0.001</text>
<text x="386.899" y="721.250" font-size="9.7" textLength="77.850" lengthAdjust="spacingAndGlyphs" fill="#000" stroke="#000" stroke-width="0.5">Median 19.9 mos</text>
</svg>
</body></html>
